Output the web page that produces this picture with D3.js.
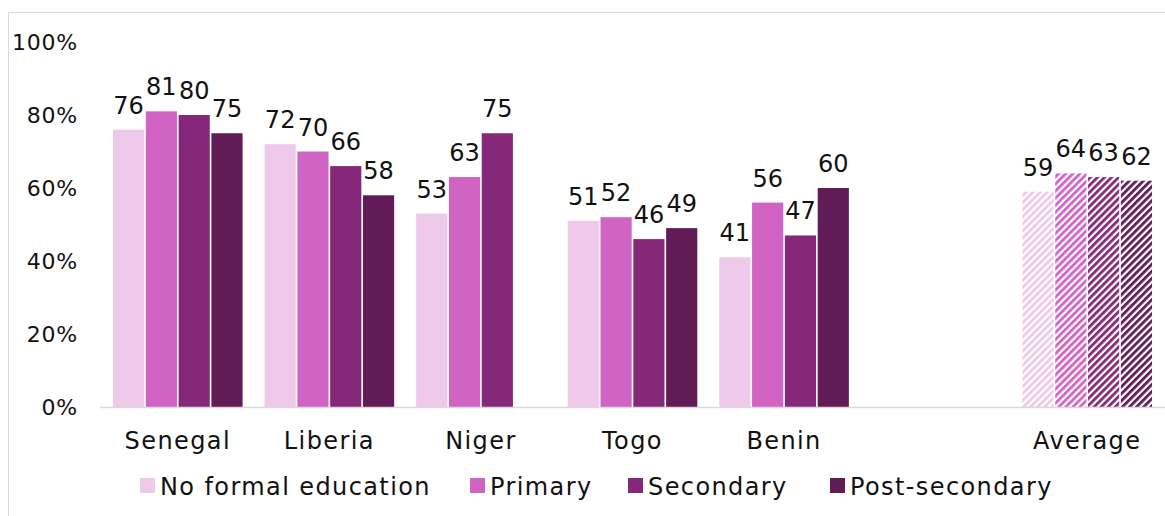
<!DOCTYPE html>
<html><head><meta charset="utf-8">
<script src="https://cdn.jsdelivr.net/npm/d3@7"></script>
<style>
html,body{margin:0;padding:0;background:#fff;}
svg{display:block;font-family:"DejaVu Sans",sans-serif;}
</style></head>
<body>
<svg id="c" width="1165" height="516"></svg>
<script>
const categories = ["Senegal","Liberia","Niger","Togo","Benin","","Average"];
const seriesNames = ["No formal education","Primary","Secondary","Post-secondary"];
const noFormal = [76,72,53,51,41,null,59];
const primary = [81,70,63,52,56,null,64];
const secondary = [80,66,75,46,47,null,63];
const postSecondary = [75,58,null,49,60,null,62];
const yTicks = [0,20,40,60,80,100];
const colors = ["#EFC9E9","#D163C5","#86287A","#611C57"];
const hatchedCategory = "Average";

const series = [noFormal, primary, secondary, postSecondary];
const svg = d3.select("#c");

const defs = svg.append("defs");
colors.forEach((c,i)=>{
  const p = defs.append("pattern").attr("id","h"+i).attr("patternUnits","userSpaceOnUse")
    .attr("width",5).attr("height",5).attr("patternTransform","rotate(45)");
  p.append("rect").attr("width",5).attr("height",5).attr("fill","#fff");
  p.append("rect").attr("width",2.8).attr("height",5).attr("fill",c);
});

// chart border
svg.append("path").attr("d","M8.5,516 V12.5 H1165").attr("fill","none").attr("stroke","#d9d9d9").attr("stroke-width",1);

const y = d3.scaleLinear().domain([0,100]).range([407,42]);
const x = d3.scaleBand().domain(categories.map((d,i)=>i)).range([102,1163]).paddingInner(0.145).paddingOuter(0.0725);
const xs = d3.scaleBand().domain(d3.range(4)).range([0,x.bandwidth()]).paddingInner(0.05);

// y axis labels
const yAxis = d3.axisLeft(y).tickValues(yTicks).tickFormat(d=>d+"%").tickSize(0).tickPadding(0);
const ga = svg.append("g").attr("transform","translate(78,0)").call(yAxis);
ga.select(".domain").remove();
ga.selectAll("text").attr("font-size",22).attr("letter-spacing",0.8).attr("fill","#111").attr("font-family","DejaVu Sans, sans-serif").attr("dy","0.35em");

// bars
categories.forEach((cat,ci)=>{
  series.forEach((s,si)=>{
    const v = s[ci];
    if(v==null) return;
    const bx = x(ci)+xs(si);
    const fill = cat===hatchedCategory ? `url(#h${si})` : colors[si];
    svg.append("rect").attr("x",bx).attr("y",y(v)).attr("width",xs.bandwidth()).attr("height",y(0)-y(v)).attr("fill",fill);
    svg.append("text").attr("x",bx+xs.bandwidth()/2).attr("y",y(v)-16).attr("text-anchor","middle")
      .attr("font-size",24).attr("fill","#111").text(v);
  });
});

// x axis
const xAxis = d3.axisBottom(x).tickFormat(i=>categories[i]).tickSize(0).tickPadding(0);
const gx = svg.append("g").attr("transform","translate(0,407)").call(xAxis);
gx.select(".domain").remove();
gx.selectAll("text").attr("font-size",24).attr("letter-spacing",1.4).attr("fill","#111").attr("font-family","DejaVu Sans, sans-serif").attr("dy","0").attr("y",42);
svg.append("line").attr("x1",100).attr("x2",1165).attr("y1",407.5).attr("y2",407.5).attr("stroke","#d9d9d9").attr("stroke-width",1.5);

// legend
const legendX = [140,470,628,830];
seriesNames.forEach((n,i)=>{
  const g = svg.append("g").attr("transform",`translate(${legendX[i]},0)`);
  g.append("rect").attr("x",0).attr("y",478).attr("width",15).attr("height",15).attr("fill",colors[i]);
  g.append("text").attr("x",20).attr("y",495).attr("font-size",24).attr("letter-spacing",1.4).attr("fill","#111").text(n);
});
</script>
</body></html>
